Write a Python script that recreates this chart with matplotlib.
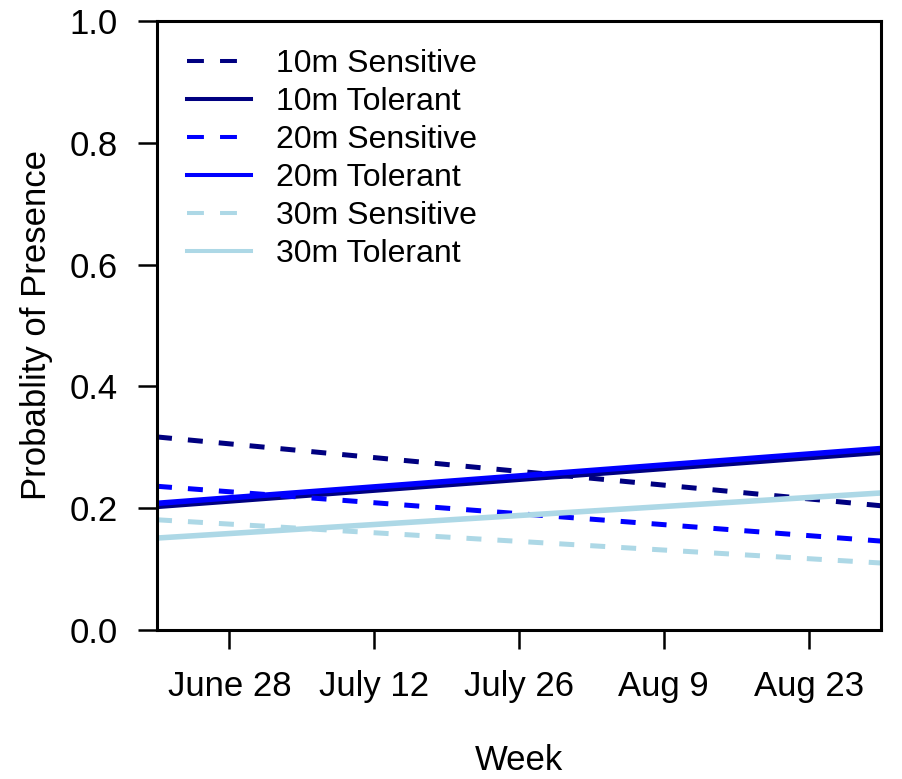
import matplotlib
matplotlib.use("Agg")
import matplotlib.pyplot as plt

plt.rcParams['font.family'] = ['Liberation Sans', 'DejaVu Sans']

# Weeks since June 28 (line endpoints)
weeks = [-1, 9]
tick_weeks = [0, 2, 4, 6, 8]
tick_labels = ["June 28", "July 12", "July 26", "Aug 9", "Aug 23"]

labels = ["10m Sensitive", "10m Tolerant", "20m Sensitive",
          "20m Tolerant", "30m Sensitive", "30m Tolerant"]
s10_sens = [0.317, 0.204]
s10_tol = [0.203, 0.292]
s20_sens = [0.236, 0.146]
s20_tol = [0.208, 0.298]
s30_sens = [0.181, 0.110]
s30_tol = [0.151, 0.225]

series = [s10_sens, s10_tol, s20_sens, s20_tol, s30_sens, s30_tol]
colors = ["#000080", "#000080", "#0000FF", "#0000FF", "#ADD8E6", "#ADD8E6"]
dashed = [True, False, True, False, True, False]

fig = plt.figure(figsize=(9.03, 7.79), dpi=100)
ax = fig.add_axes([157/903, 1 - 630/779, (881-157)/903, (630-21)/779])

for vals, c, d, lab in zip(series, colors, dashed, labels):
    if d:
        ax.plot(weeks, vals, color=c, lw=3.6, dashes=(3.0, 3.2), label=lab,
                dash_capstyle='butt')
    else:
        ax.plot(weeks, vals, color=c, lw=4.0, label=lab)

ax.set_xlim(-1, 9)
ax.set_ylim(0, 1)
ax.set_xticks(tick_weeks)
ax.set_xticklabels(tick_labels)
ax.set_yticks([0, 0.2, 0.4, 0.6, 0.8, 1.0])
ax.set_yticklabels(["0.0", "0.2", "0.4", "0.6", "0.8", "1.0"])

for sp in ax.spines.values():
    sp.set_linewidth(2.2)
ax.tick_params(axis='both', length=14, width=1.8, labelsize=25)
ax.tick_params(axis='x', pad=15)
ax.tick_params(axis='y', pad=14)

ax.set_ylabel("Probablity of Presence", fontsize=25, labelpad=12)
ax.set_xlabel("Week", fontsize=25, labelpad=29)

leg = ax.legend(loc='upper left', frameon=False, fontsize=23,
                handlelength=2.0, handletextpad=0.8, labelspacing=0.25,
                borderaxespad=0.2, bbox_to_anchor=(0.015, 0.985))
for h, d in zip(leg.get_lines(), dashed):
    h.set_linewidth(2.9)
    if d:
        h.set_dashes((4.2, 4.0))

fig.savefig("out.png", dpi=100)
